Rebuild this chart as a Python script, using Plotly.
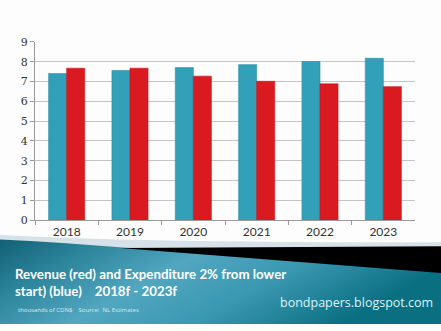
import base64
import plotly.graph_objects as go

years = ["2018", "2019", "2020", "2021", "2022", "2023"]
expenditure_blue = [7.40, 7.56, 7.70, 7.85, 8.01, 8.17]
revenue_red = [7.67, 7.67, 7.27, 7.01, 6.88, 6.74]
y_ticks = [0, 1, 2, 3, 4, 5, 6, 7, 8, 9]

W, H = 441, 331

fig = go.Figure()
fig.add_bar(x=years, y=expenditure_blue, name="Expenditure",
            marker=dict(color="#32a0b8", line=dict(color="#2a8ea4", width=0.6)))
fig.add_bar(x=years, y=revenue_red, name="Revenue",
            marker=dict(color="#da1a21", line=dict(color="#c4161c", width=0.6)))

# decorative band (as SVG background image)
svg = f'''<svg xmlns="http://www.w3.org/2000/svg" width="{W}" height="{H}" viewBox="0 0 {W} {H}">
<defs>
<linearGradient id="g" x1="0" y1="0" x2="1" y2="0.35">
<stop offset="0" stop-color="#135f74"/>
<stop offset="0.2" stop-color="#2a8399"/>
<stop offset="0.45" stop-color="#52a6c0"/>
<stop offset="0.7" stop-color="#3a98b1"/>
<stop offset="1" stop-color="#0b6f82"/>
</linearGradient>
</defs>
<rect x="0" y="0" width="{W}" height="{H}" fill="#fdfdfd"/>
<path d="M0,238 Q120,246 441,246 L441,253 L0,253 Z" fill="#d6e2e8"/>
<path d="M0,243 Q60,246 130,252 L441,252 L441,331 L0,331 Z" fill="url(#g)"/>
<path d="M120,252 L441,250 L441,278 Z" fill="#000000"/>
</svg>'''
src = "data:image/svg+xml;base64," + base64.b64encode(svg.encode()).decode()

fig.update_layout(
    width=W, height=H,
    margin=dict(l=0, r=0, t=0, b=0),
    paper_bgcolor="#fdfdfd",
    plot_bgcolor="rgba(0,0,0,0)",
    showlegend=False,
    barmode="group",
    bargap=0.43,
    bargroupgap=0,
    images=[dict(source=src, xref="paper", yref="paper", x=0, y=1,
                 sizex=1, sizey=1, sizing="stretch", layer="below",
                 xanchor="left", yanchor="top")],
    xaxis=dict(
        domain=[35 / W, 415 / W],
        type="category",
        range=[-0.5, 5.5],
        tickson="boundaries",
        ticks="outside", ticklen=4, tickcolor="#9a9a9a",
        showline=True, linecolor="#9a9a9a", linewidth=1,
        showgrid=False,
        tickfont=dict(family="Lato", size=12, color="#333333"),
    ),
    yaxis=dict(
        domain=[1 - 223 / H, 1 - 37.3 / H],
        range=[0, 9],
        tickvals=y_ticks,
        ticks="outside", ticklen=4, tickcolor="#9a9a9a",
        showline=True, linecolor="#9a9a9a", linewidth=1,
        showgrid=True, gridcolor="#c4c4c4", gridwidth=1,
        zeroline=False,
        tickfont=dict(family="DejaVu Serif", size=11, color="#333333"),
    ),
    annotations=[
        dict(text="Revenue (red) and Expenditure 2% from lower<br>start) (blue)    2018f - 2023f",
             xref="paper", yref="paper", x=13 / W, y=1 - 269 / H,
             xanchor="left", yanchor="top", align="left", showarrow=False,
             font=dict(family="Lato", size=13.3, color="#ffffff", weight=700)),
        dict(text="thousands of CDN$    Source:  NL Estimates",
             xref="paper", yref="paper", x=16 / W, y=1 - 316 / H,
             xanchor="left", yanchor="middle", showarrow=False,
             font=dict(family="Open Sans", size=6, color="#d6eef4")),
        dict(text="bondpapers.blogspot.com",
             xref="paper", yref="paper", x=435 / W, y=1 - 309 / H,
             xanchor="right", yanchor="middle", showarrow=False,
             font=dict(family="Open Sans", size=12.5, color="#dff3f8")),
    ],
)

fig.write_html("out.html")
